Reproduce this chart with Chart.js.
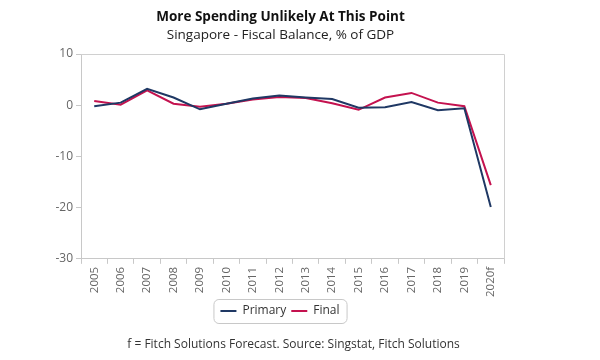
<!DOCTYPE html>
<html>
<head>
<meta charset="utf-8">
<script src="https://cdn.jsdelivr.net/npm/chart.js@4"></script>
<style>
  body { margin: 0; background: #fff; }
  #wrap { position: relative; width: 600px; height: 360px; font-family: "Open Sans", sans-serif; }
  #chart { position: absolute; left: 0; top: 0; }
  .t { position: absolute; left: 0; width: 561px; text-align: center; white-space: nowrap; }
  #title { top: 7px; font-size: 13.5px; font-weight: bold; color: #111; }
  #sub { top: 25px; font-size: 13.5px; color: #222; }
  #foot { top: 335px; width: 587px; font-size: 12px; color: #333; }
</style>
</head>
<body>
<div id="wrap">
  <canvas id="chart" width="600" height="360"></canvas>
  <div class="t" id="title">More Spending Unlikely At This Point</div>
  <div class="t" id="sub">Singapore - Fiscal Balance, % of GDP</div>
  <div class="t" id="foot">f = Fitch Solutions Forecast. Source: Singstat, Fitch Solutions</div>
</div>
<script>
const years = ['2005','2006','2007','2008','2009','2010','2011','2012','2013','2014','2015','2016','2017','2018','2019','2020f']
const primary = [-0.2, 0.5, 3.2, 1.5, -0.8, 0.3, 1.3, 1.9, 1.5, 1.2, -0.5, -0.4, 0.6, -1.0, -0.6, -19.9]
const final = [0.8, 0.1, 2.9, 0.3, -0.3, 0.3, 1.1, 1.6, 1.4, 0.4, -0.9, 1.5, 2.4, 0.5, -0.2, -15.6]
const yTicks = [10, 0, -10, -20, -30]

const frame = {
  id: 'frame',
  afterDraw(chart) {
    const c = chart.ctx, a = chart.chartArea
    c.save()
    c.strokeStyle = '#d0d0d0'
    c.lineWidth = 1
    c.beginPath()
    c.moveTo(a.left, a.top + 0.5)
    c.lineTo(a.right + 0.5, a.top + 0.5)
    c.lineTo(a.right + 0.5, a.bottom)
    c.stroke()
    // box round the legend
    const boxes = chart.legend.legendHitBoxes
    if (boxes.length) {
      const x0 = boxes[0].left - 7, x1 = boxes[boxes.length - 1].left + boxes[boxes.length - 1].width + 7
      const y0 = boxes[0].top - 6, y1 = boxes[0].top + boxes[0].height + 6
      c.strokeStyle = '#c8c8c8'
      c.beginPath()
      c.roundRect(x0 + 0.5, y0 + 0.5, x1 - x0, y1 - y0, 5)
      c.stroke()
    }
    c.restore()
  }
}

new Chart(document.getElementById('chart'), {
  type: 'line',
  data: {
    labels: years,
    datasets: [
      { label: 'Primary', data: primary, borderColor: '#1f3864', backgroundColor: '#1f3864', borderWidth: 2, pointRadius: 0, tension: 0 },
      { label: 'Final', data: final, borderColor: '#c4124f', backgroundColor: '#c4124f', borderWidth: 2, pointRadius: 0, tension: 0 }
    ]
  },
  options: {
    responsive: false,
    animation: false,
    layout: { padding: { left: 56, right: 96, top: 54, bottom: 33 } },
    plugins: {
      legend: {
        position: 'bottom',
        labels: {
          usePointStyle: true,
          pointStyle: 'line',
          pointStyleWidth: 16,
          boxHeight: 12,
          padding: 5,
          color: '#333',
          font: { family: 'Open Sans', size: 12 }
        }
      },
      tooltip: { enabled: false }
    },
    scales: {
      x: {
        offset: true,
        grid: { display: true, drawOnChartArea: false, offset: true, color: '#c8c8c8', tickLength: 5 },
        border: { color: '#c8c8c8' },
        ticks: { minRotation: 90, maxRotation: 90, padding: 3, color: '#666', font: { family: 'Open Sans', size: 11.5 } }
      },
      y: {
        min: -30,
        max: 10,
        afterFit(scale) { scale.width = 25 },
        afterBuildTicks(scale) { scale.ticks = yTicks.map(v => ({ value: v })) },
        grid: { display: true, drawOnChartArea: false, color: '#c8c8c8', tickLength: 5 },
        border: { color: '#c8c8c8' },
        ticks: { padding: 3, color: '#666', font: { family: 'Open Sans', size: 12 } }
      }
    }
  },
  plugins: [frame]
});
</script>
</body>
</html>
